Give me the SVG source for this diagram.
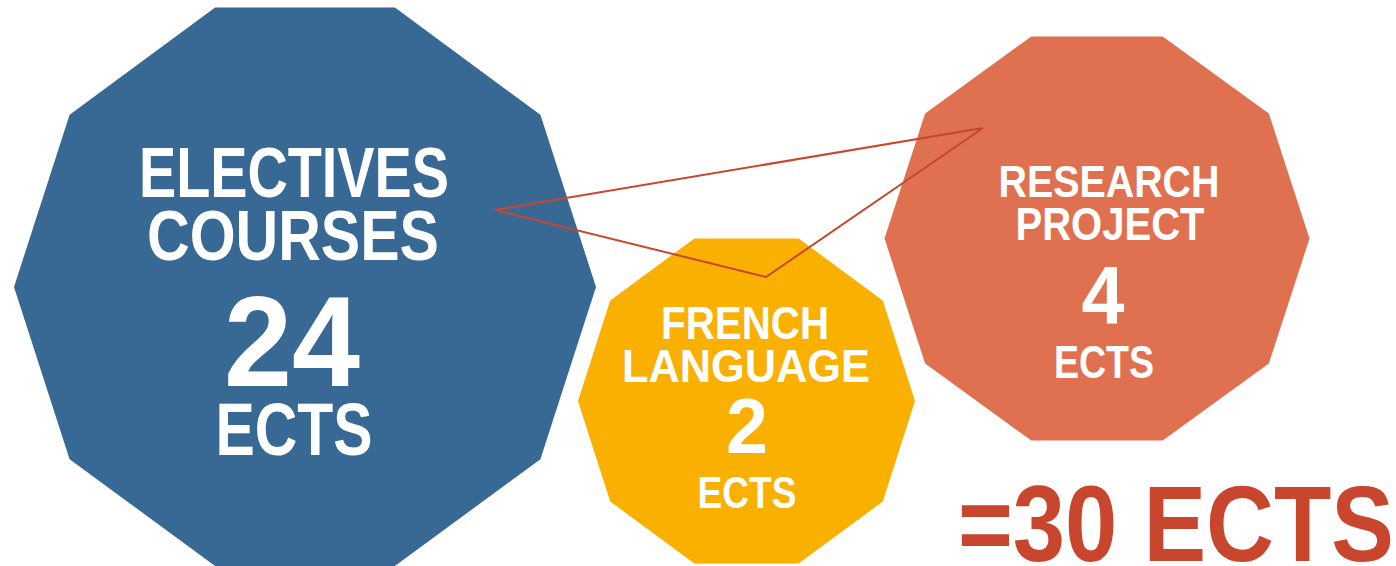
<svg xmlns="http://www.w3.org/2000/svg" width="1396" height="566" viewBox="0 0 1396 566">
  <style>
    .lbl { font-family: "Liberation Sans", Arial, sans-serif; font-weight: bold; fill: #ffffff; text-anchor: middle; }
    .total { font-family: "Liberation Sans", Arial, sans-serif; font-weight: bold; fill: #C8462D; }
    .conn { fill: none; stroke: #C8462D; stroke-width: 2; stroke-linejoin: miter; }
  </style>
  <rect width="1396" height="566" fill="#ffffff"/>
  <g id="electives">
    <polygon fill="#386894" points="596,287 540.4,114.8 394.9,7.5 215.1,7.5 69.6,114.8 14,287 69.6,459.2 215.1,566 394.9,566 540.4,459.2"/>
    <text class="lbl" x="294" y="197" font-size="71" textLength="310" lengthAdjust="spacingAndGlyphs">ELECTIVES</text>
    <text class="lbl" x="293" y="260" font-size="70" textLength="292" lengthAdjust="spacingAndGlyphs">COURSES</text>
    <text class="lbl" x="292" y="386" font-size="128" textLength="136" lengthAdjust="spacingAndGlyphs">24</text>
    <text class="lbl" x="294" y="455" font-size="74" textLength="157" lengthAdjust="spacingAndGlyphs">ECTS</text>
  </g>
  <g id="french">
    <polygon fill="#F9B000" points="915,401 882.8,300.5 798.6,238.4 694.4,238.4 610.2,300.5 578,401 610.2,501.5 694.4,563.6 798.6,563.6 882.8,501.5"/>
    <text class="lbl" x="745" y="339" font-size="47" textLength="168" lengthAdjust="spacingAndGlyphs">FRENCH</text>
    <text class="lbl" x="746" y="382" font-size="47" textLength="248" lengthAdjust="spacingAndGlyphs">LANGUAGE</text>
    <text class="lbl" x="747" y="453" font-size="77" textLength="42" lengthAdjust="spacingAndGlyphs">2</text>
    <text class="lbl" x="747" y="508" font-size="44" textLength="99" lengthAdjust="spacingAndGlyphs">ECTS</text>
  </g>
  <g id="research">
    <polygon fill="#DF7150" points="1309.5,238.5 1268.9,113.6 1162.7,36.4 1031.3,36.4 925.1,113.6 884.5,238.5 925.1,363.4 1031.3,440.6 1162.7,440.6 1268.9,363.4"/>
    <text class="lbl" x="1109" y="197" font-size="45" textLength="221" lengthAdjust="spacingAndGlyphs">RESEARCH</text>
    <text class="lbl" x="1110" y="240" font-size="46" textLength="189" lengthAdjust="spacingAndGlyphs">PROJECT</text>
    <text class="lbl" x="1103" y="323" font-size="81" textLength="43" lengthAdjust="spacingAndGlyphs">4</text>
    <text class="lbl" x="1104" y="378" font-size="46" textLength="100" lengthAdjust="spacingAndGlyphs">ECTS</text>
  </g>
  <g id="connectors">
    <polygon class="conn" points="495,210 983,128 766,277"/>
  </g>
  <g id="total">
    <text class="total" x="958" y="561" font-size="107" textLength="436" lengthAdjust="spacingAndGlyphs">=30 ECTS</text>
  </g>
</svg>
